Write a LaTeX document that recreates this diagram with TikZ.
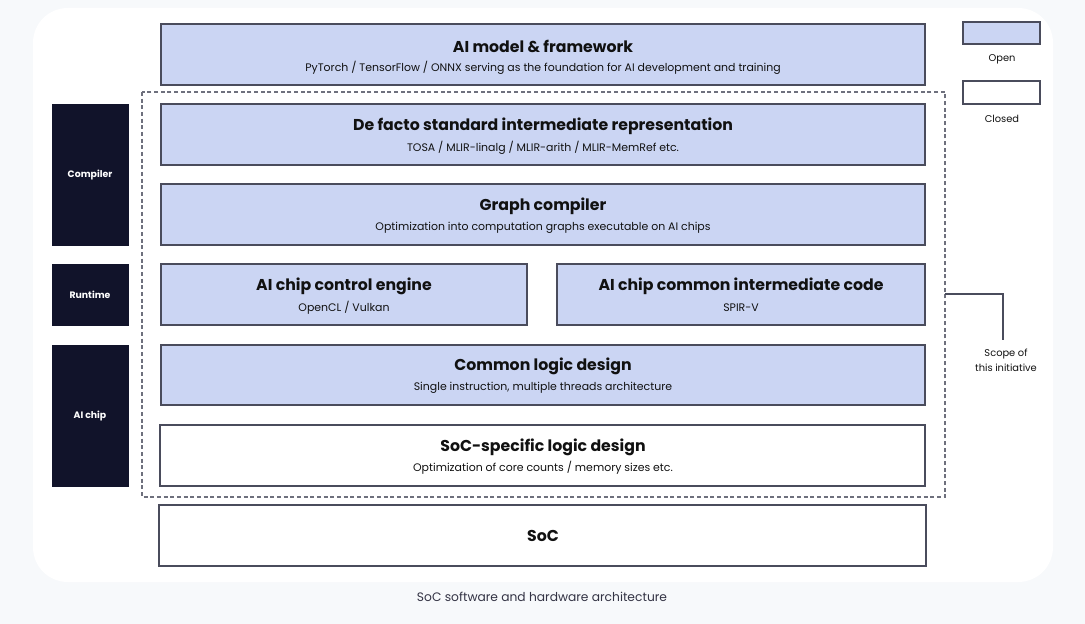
\documentclass[tikz,border=0pt]{standalone}
\usepackage{fontspec}
\setmainfont{Poppins}
\definecolor{pagebg}{HTML}{F7F9FB}
\definecolor{openfill}{HTML}{CBD5F3}
\definecolor{boxline}{HTML}{4A4C5C}
\definecolor{darkbox}{HTML}{11132A}
\definecolor{txt}{HTML}{111111}
\definecolor{capgray}{HTML}{333344}
\tikzset{
  x=0.75pt,y=-0.75pt,
  layer/.style={draw=boxline,line width=0.8pt},
  openlayer/.style={layer,fill=openfill},
  closedlayer/.style={layer,fill=white},
  sidebox/.style={fill=darkbox,draw=darkbox},
  ttl/.style={font=\fontsize{11.8}{13}\selectfont\bfseries,text=txt,inner sep=0pt},
  sub/.style={font=\fontsize{8.2}{9}\selectfont,text=txt,inner sep=0pt},
  sidelbl/.style={font=\fontsize{7}{8}\selectfont\bfseries,text=white,inner sep=0pt},
  small/.style={font=\fontsize{7.4}{11.2}\selectfont,text=txt,inner sep=0pt,align=center},
}
\begin{document}
\begin{tikzpicture}
\useasboundingbox (0,0) rectangle (1085,624);
\fill[pagebg] (0,0) rectangle (1085,624);
\fill[white,rounded corners=26pt] (33,8) rectangle (1053,582);

% dashed scope
\draw[boxline!80,dashed,line width=0.8pt,dash pattern=on 3pt off 2pt] (142,92) rectangle (945,497);
\coordinate (scopeR) at (945,294);
\coordinate (scopeK) at (1003,294);
\coordinate (scopeE) at (1003,340);

% layers
\draw[openlayer] (161,24) rectangle (925,85);
\node[ttl] (t1) at (543,46.5) {AI model \& framework};
\node[sub] (s1) at (543,67.5) {PyTorch / TensorFlow / ONNX serving as the foundation for AI development and training};

\draw[openlayer] (161,104) rectangle (925,165);
\node[ttl] (t2) at (543,126.5) {De facto standard intermediate representation};
\node[sub] (s2) at (543,147.5) {TOSA / MLIR-linalg / MLIR-arith / MLIR-MemRef etc.};

\draw[openlayer] (161,184) rectangle (925,245);
\node[ttl] (t3) at (543,206.5) {Graph compiler};
\node[sub] (s3) at (543,227.5) {Optimization into computation graphs executable on AI chips};

\draw[openlayer] (161,264) rectangle (527,325);
\node[ttl] (t4) at (344,286.5) {AI chip control engine};
\node[sub] (s4) at (344,307.5) {OpenCL / Vulkan};

\draw[openlayer] (557,264) rectangle (925,325);
\node[ttl] (t5) at (741,286.5) {AI chip common intermediate code};
\node[sub] (s5) at (741,307.5) {SPIR-V};

\draw[openlayer] (161,345) rectangle (925,405);
\node[ttl] (t6) at (543,366.5) {Common logic design};
\node[sub] (s6) at (543,387.5) {Single instruction, multiple threads architecture};

\draw[closedlayer] (160,425) rectangle (925,486);
\node[ttl] (t7) at (543,447.5) {SoC-specific logic design};
\node[sub] (s7) at (543,467.5) {Optimization of core counts / memory sizes etc.};

\draw[closedlayer] (159,505) rectangle (926,566);
\node[ttl] (t8) at (543,536) {SoC};

% side boxes
\draw[sidebox] (52,104) rectangle (128,245);
\node[sidelbl] (c1) at (90,175) {Compiler};
\draw[sidebox] (52,264) rectangle (128,325);
\node[sidelbl] (c2) at (90,295) {Runtime};
\draw[sidebox] (52,345) rectangle (128,486);
\node[sidelbl] (c3) at (90,416) {AI chip};

% legend
\draw[openlayer] (963,22) rectangle (1040,44);
\node[small] (lo) at (1002,59) {Open};
\draw[closedlayer] (963,81) rectangle (1040,104);
\node[small] (lc) at (1002,119) {Closed};

% scope connector
\draw[boxline,line width=0.8pt] (scopeR) -- (scopeK) -- (scopeE);
\node[small,anchor=north] (sc) at (1006,349) {Scope of\\this initiative};

% caption
\node[font=\fontsize{9.2}{10}\selectfont,text=capgray,inner sep=0pt] (cap) at (542,597) {SoC software and hardware architecture};
\end{tikzpicture}
\end{document}
